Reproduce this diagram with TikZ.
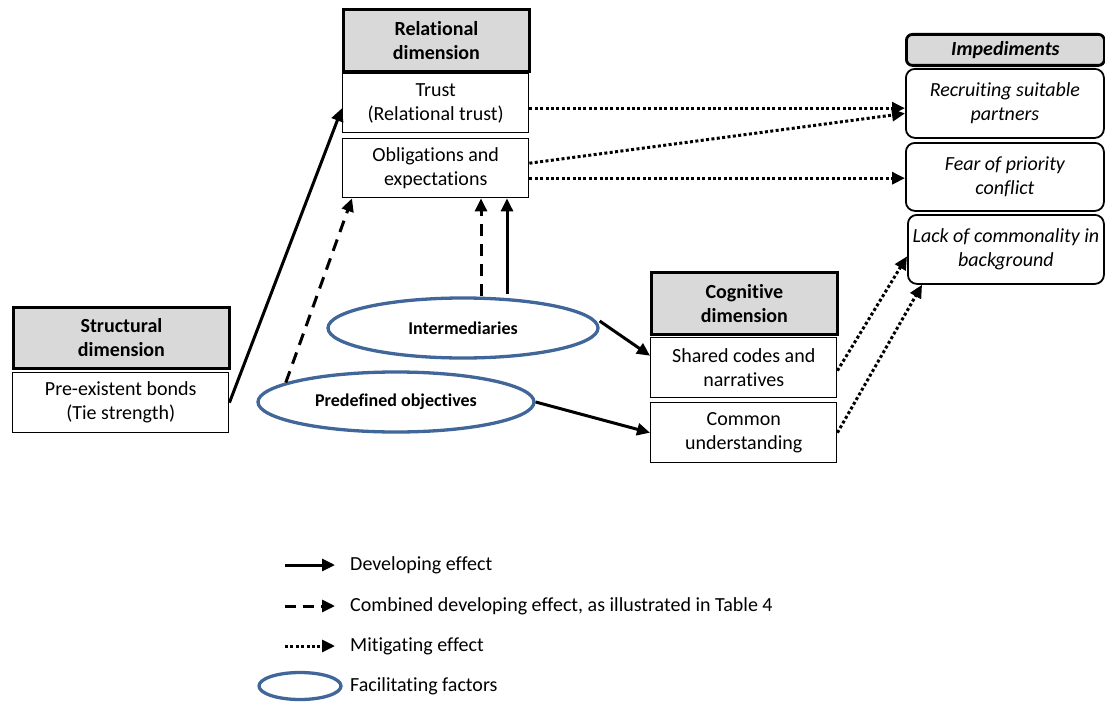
\documentclass[tikz,border=0pt]{standalone}
\usepackage{fontspec}
\setmainfont{Carlito}[RawFeature={-liga;-clig;-calt}]
\usetikzlibrary{arrows.meta,shapes.geometric}

\definecolor{hdrgray}{HTML}{D9D9D9}
\definecolor{factorblue}{HTML}{41679A}

\tikzset{
  hdrbox/.style={draw,line width=2.8pt,fill=hdrgray,anchor=north west,align=center,inner sep=0pt,
    font=\bfseries\fontsize{20}{24}\selectfont},
  itembox/.style={draw,line width=1.4pt,fill=white,anchor=north west,align=center,inner sep=0pt,
    font=\fontsize{20}{24}\selectfont},
  imphdr/.style={hdrbox,rounded corners=6pt,font=\bfseries\itshape\fontsize{20}{24}\selectfont},
  impbox/.style={itembox,line width=1.8pt,rounded corners=9pt,font=\itshape\fontsize{20}{24}\selectfont},
  factor/.style={ellipse,draw=factorblue,line width=3.3pt,fill=white,inner sep=0pt,
    font=\bfseries\fontsize{18}{22}\selectfont},
  devarrow/.style={line width=3pt,-{Triangle[length=13pt,width=12pt]}},
  combarrow/.style={devarrow,dash pattern=on 12pt off 8pt},
  mitarrow/.style={devarrow,dash pattern=on 3pt off 2.4pt},
  legtext/.style={anchor=west,inner sep=0pt,font=\fontsize{20}{24}\selectfont}
}

\begin{document}
\begin{tikzpicture}[x=1pt,y=-1pt]
\path[use as bounding box] (0,0) rectangle (1105,701);
% relational dimension
\node[hdrbox,minimum width=186,minimum height=62] (reldim) at (342,8) {Relational\\dimension};
\node[itembox,minimum width=186,minimum height=59] (trust) at (342,73) {Trust\\(Relational trust)};
\node[itembox,minimum width=186,minimum height=59] (oblig) at (342,138) {Obligations and\\expectations};
% impediments
\node[imphdr,minimum width=198,minimum height=31] (imped) at (905,33) {Impediments};
\node[impbox,minimum width=198,minimum height=69] (recruit) at (905,68) {Recruiting suitable\\partners};
\node[impbox,minimum width=198,minimum height=68] (fear) at (905,142) {Fear of priority\\conflict};
\node[impbox,minimum width=196,minimum height=69] (lack) at (907,214) {Lack of commonality in\\background};
% structural dimension
\node[hdrbox,minimum width=216,minimum height=61] (strdim) at (12,306) {Structural\\dimension};
\node[itembox,minimum width=216,minimum height=60] (bonds) at (12,372) {Pre-existent bonds\\(Tie strength)};
% cognitive dimension
\node[hdrbox,minimum width=186,minimum height=62] (cogdim) at (650,271) {Cognitive\\dimension};
\node[itembox,minimum width=186,minimum height=60] (shared) at (650,337) {Shared codes and\\narratives};
\node[itembox,minimum width=186,minimum height=60] (common) at (650,402) {Common\\understanding};
% facilitating factors
\node[factor,minimum width=270,minimum height=60] (inter) at (463,328) {Intermediaries};
\node[factor,minimum width=276,minimum height=60] (predef) at (396,402) {Predefined objectives};

% developing effects
\draw[devarrow] (bonds.east) -- ([yshift=-5pt]trust.west);
\draw[combarrow] (predef.170) -- ([xshift=10pt]oblig.south west);
\draw[combarrow] ([xshift=18pt]inter.north) -- ([xshift=18pt]inter.north |- oblig.south);
\draw[devarrow] ([xshift=44pt,yshift=2pt]inter.north) -- ([xshift=44pt]inter.north |- oblig.south);
\draw[devarrow] ([yshift=7pt]inter.east) -- ([yshift=12pt]shared.west);
\draw[devarrow] (predef.east) -- (common.west);
% mitigating effects
\draw[mitarrow] ([yshift=-5pt]trust.east) -- ([yshift=-5pt]trust.east -| recruit.west);
\draw[mitarrow] ([yshift=5pt]oblig.east) -- ([yshift=-10pt]recruit.west);
\draw[mitarrow] ([yshift=-10pt]oblig.east) -- ([yshift=-10pt]oblig.east -| fear.west);
\draw[mitarrow] ([yshift=-3pt]shared.east) -- ([yshift=-7pt]lack.west);
\draw[mitarrow] (common.east) -- ([xshift=15pt]lack.south west);

% legend
\coordinate (legA) at (285,565);
\coordinate (legB) at (285,606);
\coordinate (legC) at (285,646);
\draw[devarrow] (legA) -- ++(50,0);
\draw[combarrow,dash pattern=on 11pt off 7pt] (legB) -- ++(50,0);
\draw[mitarrow] (legC) -- ++(50,0);
\node[factor,minimum width=82,minimum height=27] (legfactor) at (300,686) {};
\node[legtext] (legdev) at (350,565) {Developing effect};
\node[legtext] (legcomb) at (350,606) {Combined developing effect, as illustrated in Table 4};
\node[legtext] (legmit) at (350,646) {Mitigating effect};
\node[legtext] (legfac) at (350,686) {Facilitating factors};
\end{tikzpicture}
\end{document}
